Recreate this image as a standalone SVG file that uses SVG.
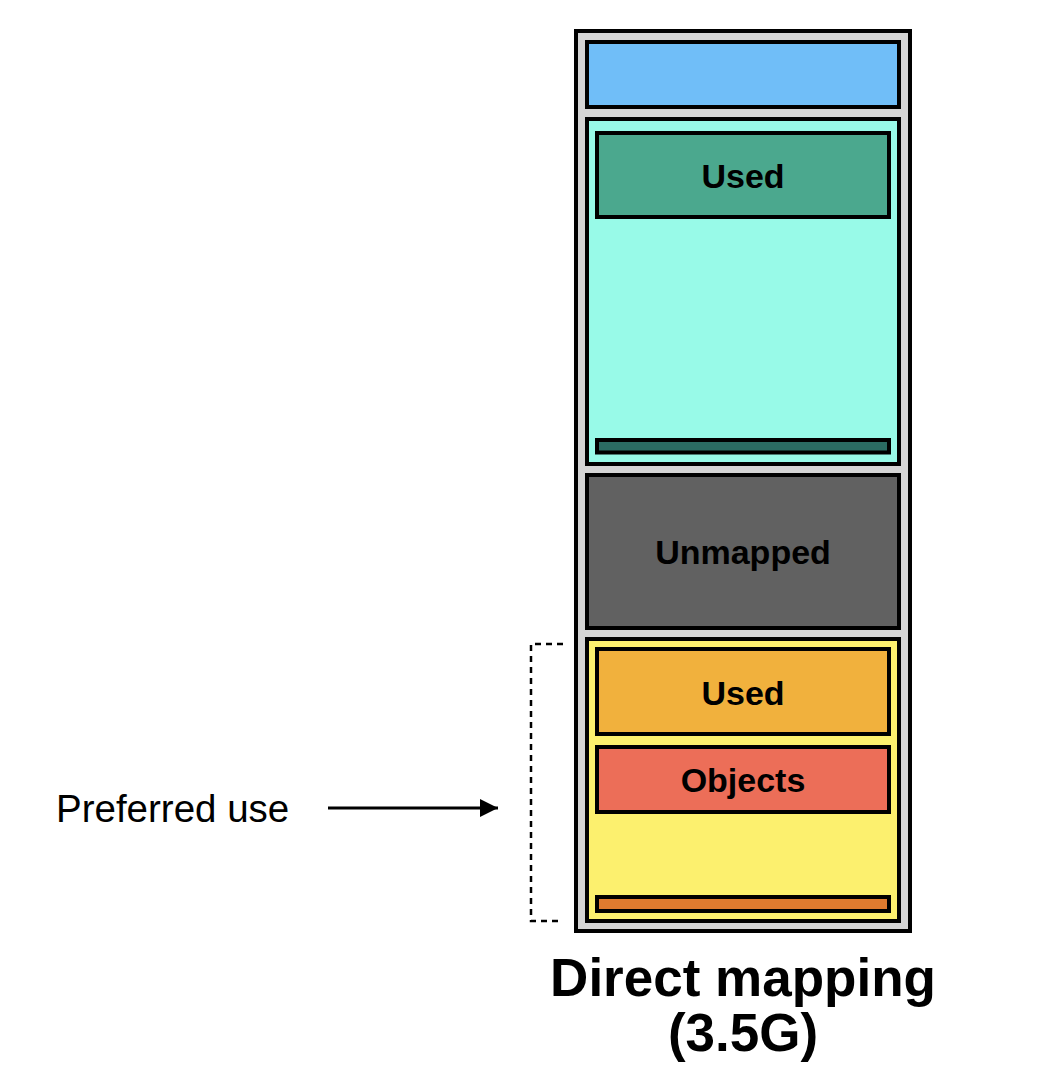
<svg xmlns="http://www.w3.org/2000/svg" width="1050" height="1088" viewBox="0 0 1050 1088">
<defs>
<style>
.box{stroke:#000;stroke-width:4}
.lbl{font-family:"Liberation Sans",Arial,sans-serif;font-weight:bold;font-size:34px;text-anchor:middle;fill:#000}
.title{font-family:"Liberation Sans",Arial,sans-serif;font-weight:bold;font-size:53px;text-anchor:middle;fill:#000}
.plain{font-family:"Liberation Sans",Arial,sans-serif;font-size:38.5px;fill:#000}
</style>
<marker id="arrow" viewBox="0 0 10 10" refX="10" refY="5" markerWidth="6" markerHeight="6" markerUnits="strokeWidth" orient="auto">
<path d="M0,0 L10,5 L0,10 z" fill="#000"/>
</marker>
</defs>
<rect width="1050" height="1088" fill="#fff"/>
<g id="outer"><rect class="box" x="576" y="31" width="334" height="900" fill="#D4D4D4"/></g>
<g id="top-blue"><rect class="box" x="587" y="42" width="312" height="65" fill="#70BEF8"/></g>
<g id="cyan-region"><rect class="box" x="587" y="119" width="312" height="345" fill="#98FAE8"/></g>
<g id="cyan-used"><rect class="box" x="597" y="133" width="292" height="84" fill="#4BA88E"/><text class="lbl" x="743" y="188">Used</text></g>
<g id="cyan-bar"><rect class="box" x="597" y="440" width="292" height="12.5" fill="#2B6B62"/></g>
<g id="unmapped"><rect class="box" x="587" y="475" width="312" height="153" fill="#616161"/><text class="lbl" x="743" y="564">Unmapped</text></g>
<g id="yellow-region"><rect class="box" x="587" y="639" width="312" height="282" fill="#FCF06E"/></g>
<g id="yellow-used"><rect class="box" x="597" y="649" width="292" height="85" fill="#F1B13D"/><text class="lbl" x="743" y="705">Used</text></g>
<g id="objects"><rect class="box" x="597" y="747" width="292" height="65" fill="#EC6E58"/><text class="lbl" x="743" y="792">Objects</text></g>
<g id="yellow-bar"><rect class="box" x="597" y="897" width="292" height="14" fill="#E07B2F"/></g>
<g id="preferred-label"><text class="plain" x="56" y="822">Preferred use</text></g>
<g id="title"><text class="title" x="743" y="996">Direct mapping</text><text class="title" x="743" y="1051">(3.5G)</text></g>
<g id="connectors">
<path d="M563,644 H531 V921 H560" fill="none" stroke="#000" stroke-width="2.5" stroke-dasharray="6,5"/>
<line x1="328" y1="808" x2="498" y2="808" stroke="#000" stroke-width="3" marker-end="url(#arrow)"/>
</g>
</svg>
